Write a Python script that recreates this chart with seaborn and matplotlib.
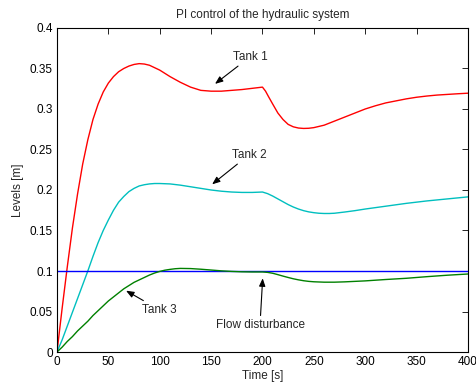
import matplotlib
matplotlib.use('Agg')
import matplotlib.pyplot as plt
import seaborn as sns

sns.set_style("white")
plt.rcParams['font.family'] = ['Liberation Sans', 'DejaVu Sans']
plt.rcParams['xtick.direction'] = 'in'
plt.rcParams['ytick.direction'] = 'in'

# readings
t_tank1 = [0, 5, 10, 15, 20, 25, 30, 35, 40, 45, 50, 55, 60, 65, 70, 75, 80, 85, 90, 95, 100,
           105, 110, 115, 120, 130, 140, 150, 160, 170, 180, 190, 200, 203, 206, 210, 215, 220,
           225, 230, 235, 240, 245, 250, 255, 260, 270, 280, 290, 300, 310, 320, 330, 340, 350,
           360, 370, 380, 390, 400]
tank1 = [0, 0.054, 0.105, 0.153, 0.195, 0.232, 0.262, 0.287, 0.306, 0.321, 0.332, 0.340, 0.346,
         0.350, 0.353, 0.355, 0.356, 0.3555, 0.354, 0.351, 0.348, 0.344, 0.340, 0.3365, 0.333,
         0.327, 0.323, 0.322, 0.322, 0.323, 0.324, 0.3255, 0.327, 0.322, 0.315, 0.306, 0.295,
         0.287, 0.281, 0.278, 0.2765, 0.276, 0.2762, 0.277, 0.2785, 0.280, 0.285, 0.290, 0.295,
         0.300, 0.304, 0.3075, 0.310, 0.3125, 0.3145, 0.316, 0.3172, 0.318, 0.3188, 0.3195]

t_tank2 = [0, 5, 10, 15, 20, 25, 30, 35, 40, 45, 50, 55, 60, 65, 70, 75, 80, 85, 90, 95, 100,
           110, 120, 130, 140, 150, 160, 170, 180, 190, 200, 205, 210, 215, 220, 225, 230, 235,
           240, 245, 250, 255, 260, 265, 270, 280, 290, 300, 320, 340, 360, 380, 400]
tank2 = [0, 0.015, 0.032, 0.049, 0.066, 0.083, 0.100, 0.118, 0.135, 0.150, 0.163, 0.175, 0.185,
         0.192, 0.198, 0.202, 0.205, 0.2065, 0.2075, 0.208, 0.208, 0.2075, 0.206, 0.204, 0.202,
         0.200, 0.1985, 0.1975, 0.197, 0.197, 0.1975, 0.1955, 0.1925, 0.189, 0.1855, 0.182,
         0.179, 0.1765, 0.1745, 0.173, 0.172, 0.1713, 0.171, 0.171, 0.1713, 0.1728, 0.1745,
         0.1765, 0.180, 0.1835, 0.1865, 0.189, 0.1915]

t_tank3 = [0, 5, 10, 15, 20, 25, 30, 35, 40, 45, 50, 55, 60, 65, 70, 75, 80, 85, 90, 95, 100,
           105, 110, 115, 120, 130, 140, 150, 160, 170, 180, 190, 200, 205, 210, 215, 220, 225,
           230, 235, 240, 245, 250, 260, 270, 280, 300, 320, 340, 360, 380, 400]
tank3 = [0, 0.006, 0.013, 0.019, 0.026, 0.032, 0.038, 0.045, 0.051, 0.057, 0.063, 0.068, 0.073,
         0.078, 0.082, 0.086, 0.089, 0.092, 0.095, 0.0975, 0.0995, 0.101, 0.102, 0.1028, 0.1032,
         0.103, 0.1022, 0.1012, 0.1002, 0.0995, 0.099, 0.0988, 0.0988, 0.0983, 0.0972, 0.0955,
         0.0937, 0.092, 0.0904, 0.0891, 0.088, 0.0872, 0.0867, 0.0862, 0.0862, 0.0866, 0.0878,
         0.0895, 0.091, 0.093, 0.0948, 0.0963]

t_ref = [0, 400]
setpoint = [0.1, 0.1]

fig = plt.figure(figsize=(4.77, 3.85), dpi=100)
ax = fig.add_axes([0.1195, 0.0857, 0.8615, 0.8416])

sns.lineplot(x=t_tank1, y=tank1, ax=ax, color='#ff0000', lw=1.0)
sns.lineplot(x=t_tank2, y=tank2, ax=ax, color='#00bfbf', lw=1.0)
sns.lineplot(x=t_ref, y=setpoint, ax=ax, color='#0000ff', lw=1.0)
sns.lineplot(x=t_tank3, y=tank3, ax=ax, color='#008000', lw=1.0)

ax.set_xlim(0, 400)
ax.set_ylim(0, 0.4)
ax.set_xticks(range(0, 401, 50))
ax.set_yticks([0, 0.05, 0.1, 0.15, 0.2, 0.25, 0.3, 0.35, 0.4])
ax.set_yticklabels(['0', '0.05', '0.1', '0.15', '0.2', '0.25', '0.3', '0.35', '0.4'])
ax.tick_params(which='both', top=True, right=True, length=4, width=0.6, labelsize=8.5, pad=3,
               colors='black')
for s in ax.spines.values():
    s.set_color('black')
    s.set_linewidth(0.8)

ax.set_title('PI control of the hydraulic system', fontsize=8.5, pad=7)
ax.set_xlabel('Time [s]', fontsize=8.5, labelpad=1)
ax.set_ylabel('Levels [m]', fontsize=8.5, labelpad=4)

arrow = dict(arrowstyle='-|>, head_length=0.55, head_width=0.22', color='black', lw=0.8,
             shrinkA=0, shrinkB=0)
ax.annotate('Tank 1', xy=(153.8, 0.331), xytext=(171, 0.357), fontsize=8.5,
            arrowprops=arrow, va='bottom', ha='left')
ax.annotate('Tank 2', xy=(151, 0.207), xytext=(170, 0.236), fontsize=8.5,
            arrowprops=arrow, va='bottom', ha='left')
ax.annotate('Tank 3', xy=(67.2, 0.0757), xytext=(83, 0.052), fontsize=8.5,
            arrowprops=arrow, va='center', ha='left')
ax.annotate('Flow disturbance', xy=(200.2, 0.091), xytext=(197.6, 0.041), fontsize=8.5,
            arrowprops=arrow, va='top', ha='center')

fig.savefig('out.png', dpi=100)
